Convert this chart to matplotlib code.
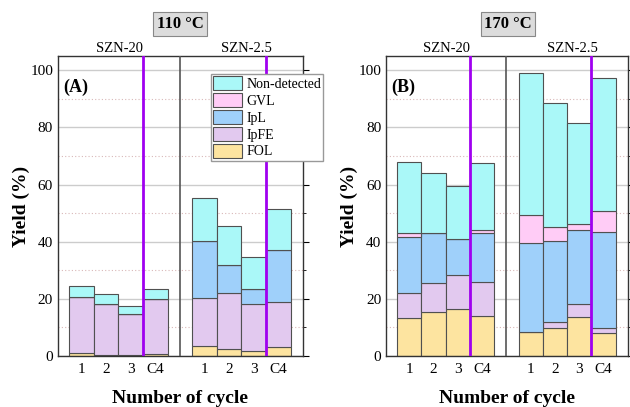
import numpy as np
import matplotlib.pyplot as plt
from matplotlib.patches import Patch
from matplotlib.ticker import MultipleLocator

plt.rcParams['font.family'] = ['Liberation Serif', 'DejaVu Serif']

components = ['FOL', 'IpFE', 'IpL', 'GVL', 'Non-detected']
colors = ['#fde4a0', '#e2c9ef', '#9fd0fa', '#ffccf6', '#aaf8f8']
cycles = ['1', '2', '3', 'C4']
catalysts = ['SZN-20', 'SZN-2.5']

# yields (%) per component, order: SZN-20 cycles 1,2,3,C4 then SZN-2.5 cycles 1,2,3,C4
fol_110 = [0.9, 0.5, 0.2, 0.8, 3.5, 2.4, 1.9, 3.1]
ipfe_110 = [19.8, 17.6, 14.4, 19.0, 16.7, 19.5, 16.2, 15.8]
ipl_110 = [0.0, 0.0, 0.0, 0.0, 20.0, 10.1, 5.3, 18.1]
gvl_110 = [0.0, 0.0, 0.0, 0.0, 0.0, 0.0, 0.0, 0.0]
nondet_110 = [3.9, 3.6, 3.0, 3.5, 15.1, 13.6, 11.1, 14.6]

fol_170 = [13.2, 15.5, 16.5, 14.1, 8.3, 9.9, 13.5, 8.2]
ipfe_170 = [8.9, 10.1, 11.7, 11.9, 0.0, 2.1, 4.8, 1.5]
ipl_170 = [19.4, 17.3, 12.6, 16.9, 31.1, 28.3, 25.9, 33.8]
gvl_170 = [1.4, 0.2, 0.3, 1.2, 9.8, 5.0, 1.9, 7.4]
nondet_170 = [25.0, 21.1, 18.4, 23.6, 50.0, 43.4, 35.6, 46.5]

xpos = np.array([0, 1, 2, 3, 5, 6, 7, 8])


def draw_panel(ax, series, tag):
    bottom = np.zeros(len(xpos))
    for vals, c in zip(series, colors):
        ax.bar(xpos, vals, width=1.0, bottom=bottom, color=c,
               edgecolor='#505050', linewidth=0.8, zorder=2)
        bottom += np.array(vals)

    ax.set_xlim(-0.95, 9.0)
    ax.set_ylim(0, 105)
    ax.yaxis.set_major_locator(MultipleLocator(20))
    ax.yaxis.set_minor_locator(MultipleLocator(10))
    ax.grid(which='major', axis='y', color='#cccccc', lw=1.0, zorder=0)
    ax.grid(which='minor', axis='y', color='#d9b8b8', lw=0.8, ls=(0, (1, 2)), zorder=0)
    ax.set_axisbelow(True)

    ax.set_xticks(xpos)
    ax.set_xticklabels(cycles * 2, fontsize=11)
    ax.tick_params(axis='x', length=0, pad=5)
    ax.tick_params(axis='y', which='both', left=False, right=True,
                   direction='out', labelsize=11, pad=-0.5)
    ax.tick_params(axis='y', which='major', length=4)
    ax.tick_params(axis='y', which='minor', length=2.5)
    for s in ax.spines.values():
        s.set_color('#333333')
        s.set_linewidth(1.0)

    # separator between catalysts and marker for the C4 cycle
    ax.axvline(4.0, color='#555555', lw=1.2, zorder=3)
    ax.axvline(2.5, color='#a000f0', lw=2.0, zorder=4)
    ax.axvline(7.5, color='#a000f0', lw=2.0, zorder=4)

    ax.text(1.55, 106.3, catalysts[0], ha='center', va='baseline', fontsize=10.5)
    ax.text(6.7, 106.3, catalysts[1], ha='center', va='baseline', fontsize=10.5)
    ax.text(-0.75, 94, tag, ha='left', va='center', fontsize=13, fontweight='bold')

    ax.set_ylabel('Yield (%)', fontsize=14, fontweight='bold', labelpad=0)
    ax.set_xlabel('Number of cycle', fontsize=14, fontweight='bold', labelpad=10)


fig = plt.figure(figsize=(6.3, 4.07), dpi=100)
ax1 = fig.add_axes([0.092, 0.1253, 0.389, 0.737])
ax2 = fig.add_axes([0.6127, 0.1253, 0.384, 0.737])

draw_panel(ax1, [fol_110, ipfe_110, ipl_110, gvl_110, nondet_110], '(A)')
draw_panel(ax2, [fol_170, ipfe_170, ipl_170, gvl_170, nondet_170], '(B)')

box = dict(boxstyle='square,pad=0.22', facecolor='#dcdcdc', edgecolor='#888888', lw=0.8)
fig.text(180 / 630, 1 - 24 / 407, '110 °C', ha='center', va='center',
         fontsize=12, fontweight='bold', bbox=box)
fig.text(508 / 630, 1 - 24 / 407, '170 °C', ha='center', va='center',
         fontsize=12, fontweight='bold', bbox=box)

handles = [Patch(facecolor=c, edgecolor='#505050', lw=0.8) for c in colors][::-1]
fig.legend(handles, components[::-1], loc='upper left',
           bbox_to_anchor=(211 / 630, 1 - 74 / 407), fontsize=10,
           frameon=True, fancybox=False, edgecolor='#999999', framealpha=1,
           handlelength=2.1, handleheight=1.2, labelspacing=0.15,
           handletextpad=0.3, borderpad=0.15, borderaxespad=0)

fig.savefig('out.png', dpi=100)
